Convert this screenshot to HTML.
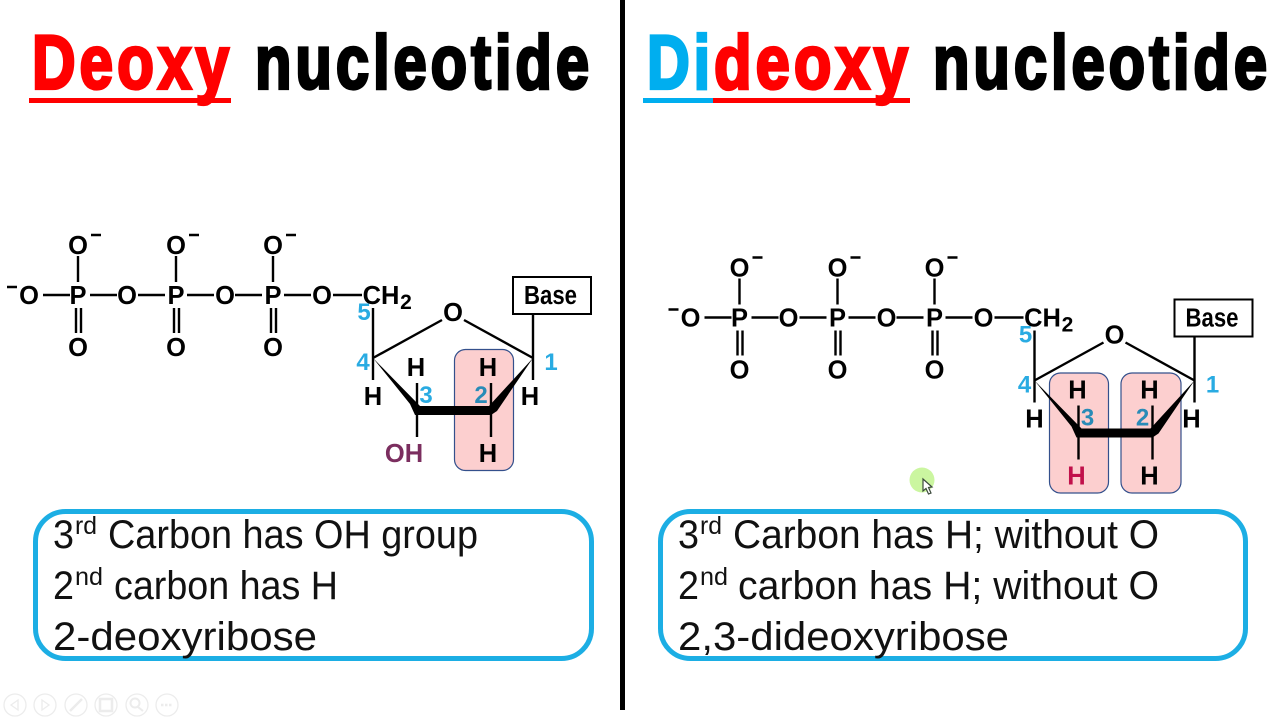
<!DOCTYPE html>
<html lang="en">
<head>
<meta charset="utf-8">
<title>Deoxy nucleotide vs Dideoxy nucleotide</title>
<style>
html,body{margin:0;padding:0;background:#fff;width:1280px;height:720px;overflow:hidden}
svg{display:block}
text{font-family:"Liberation Sans",sans-serif}
.title{font-size:76px;font-weight:700;stroke-width:3.2px;letter-spacing:5px}
.body{font-size:40px;fill:#111}
.sup{font-size:25px;fill:#111}
.a{font-size:25.5px;font-weight:700;fill:#000;text-anchor:middle}
.n{font-size:24px;font-weight:700;fill:#29abe2;text-anchor:middle}
.bond{stroke:#000;stroke-width:2.4;fill:none}
.tool{fill:none;stroke:#ececec;stroke-width:1.3}
.pink{fill:#fccfcf;mix-blend-mode:multiply;stroke:#34508c;stroke-width:1.2}
</style>
</head>
<body>
<svg xmlns="http://www.w3.org/2000/svg" width="1280" height="720" viewBox="0 0 1280 720">
<rect width="1280" height="720" fill="#fff"/>
<rect x="620" y="0" width="5" height="710" fill="#000"/>

<text class="title" x="32" y="88.500" fill="#f00" stroke="#f00" textLength="201" lengthAdjust="spacingAndGlyphs">Deoxy</text>
<text class="title" x="255" y="88.500" fill="#000" stroke="#000" textLength="338" lengthAdjust="spacingAndGlyphs">nucleotide</text>
<rect x="29" y="98" width="202" height="5" fill="#f00"/>

<text class="title" x="647" y="88.500" fill="#00aeef" stroke="#00aeef" textLength="67" lengthAdjust="spacingAndGlyphs">Di</text>
<text class="title" x="714" y="88.500" fill="#f00" stroke="#f00" textLength="198" lengthAdjust="spacingAndGlyphs">deoxy</text>
<text class="title" x="933" y="88.500" fill="#000" stroke="#000" textLength="338" lengthAdjust="spacingAndGlyphs">nucleotide</text>
<rect x="643" y="98" width="70" height="5" fill="#00aeef"/>
<rect x="713" y="98" width="197" height="5" fill="#f00"/>

<g style="isolation:isolate">
  <g class="bond">
    <path d="M43 295H70M90 295H117M138 295H165M187 295H214M235 295H262M284 295H311M333 295H362"/>
    <path d="M78 256V282M176 256V282M273 256V282"/>
    <path d="M76 308V333M81 308V333M174 308V333M179 308V333M271 308V333M276 308V333"/>
  </g>
  <path d="M7 287H17M91 235H101M189 235H199M286 235H296" stroke="#000" stroke-width="2.4"/>
  <text class="a" x="29" y="304">O</text>
  <text class="a" x="78" y="304">P</text>
  <text class="a" x="127" y="304">O</text>
  <text class="a" x="176" y="304">P</text>
  <text class="a" x="225" y="304">O</text>
  <text class="a" x="273" y="304">P</text>
  <text class="a" x="322" y="304">O</text>
  <text class="a" x="78" y="254">O</text>
  <text class="a" x="176" y="254">O</text>
  <text class="a" x="273" y="254">O</text>
  <text class="a" x="78" y="356">O</text>
  <text class="a" x="176" y="356">O</text>
  <text class="a" x="273" y="356">O</text>
  <text class="a" x="381" y="304">CH</text>
  <text class="a" x="406" y="309" style="font-size:21px">2</text>
  <g class="bond">
    <path d="M373 308V380M373 358L442 320M464 320L533 358M533 314V380M417 383V437M491 383V437"/>
  </g>
  <path d="M373 358L420 406H489L533 358L497 411L491 415H415L410 404Z" fill="#000"/>
  <text class="a" x="453" y="321">O</text>
  <rect x="513" y="277" width="78" height="37" fill="#fff" stroke="#000" stroke-width="2"/>
  <text class="a" x="550.500" y="304" textLength="53" lengthAdjust="spacingAndGlyphs">Base</text>
  <text class="a" x="373" y="405">H</text>
  <text class="a" x="416" y="376">H</text>
  <text class="a" x="488" y="376">H</text>
  <text class="a" x="488" y="462">H</text>
  <text class="a" x="530" y="405">H</text>
  <text class="a" x="404" y="462" style="fill:#7b2e5f">OH</text>
  <text class="n" x="364" y="320">5</text>
  <text class="n" x="363" y="370">4</text>
  <text class="n" x="426" y="403">3</text>
  <text class="n" x="481" y="403">2</text>
  <text class="n" x="551" y="370">1</text>
  <rect class="pink" x="454.500" y="349.500" width="59" height="121" rx="11"/>
</g>

<g transform="translate(661.5 22.5)" style="isolation:isolate">
  <g class="bond">
    <path d="M43 295H70M90 295H117M138 295H165M187 295H214M235 295H262M284 295H311M333 295H362"/>
    <path d="M78 256V282M176 256V282M273 256V282"/>
    <path d="M76 308V333M81 308V333M174 308V333M179 308V333M271 308V333M276 308V333"/>
  </g>
  <path d="M7 287H17M91 235H101M189 235H199M286 235H296" stroke="#000" stroke-width="2.4"/>
  <text class="a" x="29" y="304">O</text>
  <text class="a" x="78" y="304">P</text>
  <text class="a" x="127" y="304">O</text>
  <text class="a" x="176" y="304">P</text>
  <text class="a" x="225" y="304">O</text>
  <text class="a" x="273" y="304">P</text>
  <text class="a" x="322" y="304">O</text>
  <text class="a" x="78" y="254">O</text>
  <text class="a" x="176" y="254">O</text>
  <text class="a" x="273" y="254">O</text>
  <text class="a" x="78" y="356">O</text>
  <text class="a" x="176" y="356">O</text>
  <text class="a" x="273" y="356">O</text>
  <text class="a" x="381" y="304">CH</text>
  <text class="a" x="406" y="309" style="font-size:21px">2</text>
  <g class="bond">
    <path d="M373 308V380M373 358L442 320M464 320L533 358M533 314V380M417 383V437M491 383V437"/>
  </g>
  <path d="M373 358L420 406H489L533 358L497 411L491 415H415L410 404Z" fill="#000"/>
  <text class="a" x="453" y="321">O</text>
  <rect x="513" y="277" width="78" height="37" fill="#fff" stroke="#000" stroke-width="2"/>
  <text class="a" x="550.500" y="304" textLength="53" lengthAdjust="spacingAndGlyphs">Base</text>
  <text class="a" x="373" y="405">H</text>
  <text class="a" x="416" y="376">H</text>
  <text class="a" x="488" y="376">H</text>
  <text class="a" x="488" y="462">H</text>
  <text class="a" x="530" y="405">H</text>
  <text class="a" x="415" y="462" style="fill:#c4145c">H</text>
  <text class="n" x="364" y="320">5</text>
  <text class="n" x="363" y="370">4</text>
  <text class="n" x="426" y="403">3</text>
  <text class="n" x="481" y="403">2</text>
  <text class="n" x="551" y="370">1</text>
  <rect class="pink" x="388" y="350.500" width="59" height="120" rx="11"/>
  <rect class="pink" x="459.500" y="350.500" width="60" height="120" rx="11"/>
</g>

<g>
  <rect x="35.500" y="511.500" width="556" height="147" rx="30" fill="#fff" stroke="#1caee4" stroke-width="5"/>
  <text class="body" x="53" y="548" textLength="21" lengthAdjust="spacingAndGlyphs">3</text>
  <text class="sup" x="75" y="534" textLength="22" lengthAdjust="spacingAndGlyphs">rd</text>
  <text class="body" x="108" y="548" textLength="370" lengthAdjust="spacingAndGlyphs">Carbon has OH group</text>
  <text class="body" x="53" y="599" textLength="21" lengthAdjust="spacingAndGlyphs">2</text>
  <text class="sup" x="75" y="585" textLength="28" lengthAdjust="spacingAndGlyphs">nd</text>
  <text class="body" x="114" y="599" textLength="224" lengthAdjust="spacingAndGlyphs">carbon has H</text>
  <text class="body" x="53" y="650" textLength="264" lengthAdjust="spacingAndGlyphs">2-deoxyribose</text>
</g>

<g>
  <rect x="660.500" y="511.500" width="585" height="147" rx="30" fill="#fff" stroke="#1caee4" stroke-width="5"/>
  <text class="body" x="678" y="548" textLength="21" lengthAdjust="spacingAndGlyphs">3</text>
  <text class="sup" x="700" y="534" textLength="22" lengthAdjust="spacingAndGlyphs">rd</text>
  <text class="body" x="733" y="548" textLength="426" lengthAdjust="spacingAndGlyphs">Carbon has H; without O</text>
  <text class="body" x="678" y="599" textLength="21" lengthAdjust="spacingAndGlyphs">2</text>
  <text class="sup" x="700" y="585" textLength="28" lengthAdjust="spacingAndGlyphs">nd</text>
  <text class="body" x="738" y="599" textLength="421" lengthAdjust="spacingAndGlyphs">carbon has H; without O</text>
  <text class="body" x="678" y="650" textLength="331" lengthAdjust="spacingAndGlyphs">2,3-dideoxyribose</text>
</g>

<g>
  <circle cx="922" cy="480" r="12.500" fill="#cbf6a0"/>
  <path d="M923 479V491L926 488.500L928.500 494L931 493L928.500 487.500L932 487Z" fill="#fff" stroke="#3c4a3c" stroke-width="1.200"/>
</g>

<g>
  <g><circle class="tool" cx="15" cy="705" r="11"/><path class="tool" d="M18 700L11 705L18 710Z"/></g>
  <g><circle class="tool" cx="45" cy="705" r="11"/><path class="tool" d="M42 700L49 705L42 710Z"/></g>
  <g><circle class="tool" cx="76" cy="705" r="11"/><path class="tool" style="stroke-width:2.500" d="M70 711L82 699"/></g>
  <g><circle class="tool" cx="106" cy="705" r="11"/><rect class="tool" x="100" y="699" width="12" height="12" style="stroke-width:2.500"/></g>
  <g><circle class="tool" cx="137" cy="705" r="11"/><circle class="tool" cx="135" cy="703" r="4.500" style="stroke-width:2"/><path class="tool" style="stroke-width:2" d="M138 707L143 711"/></g>
  <g><circle class="tool" cx="167" cy="705" r="11"/><path class="tool" style="stroke-width:2.500;stroke-dasharray:2.500 1.500" d="M161 705H173"/></g>
</g>
</svg>
</body>
</html>
